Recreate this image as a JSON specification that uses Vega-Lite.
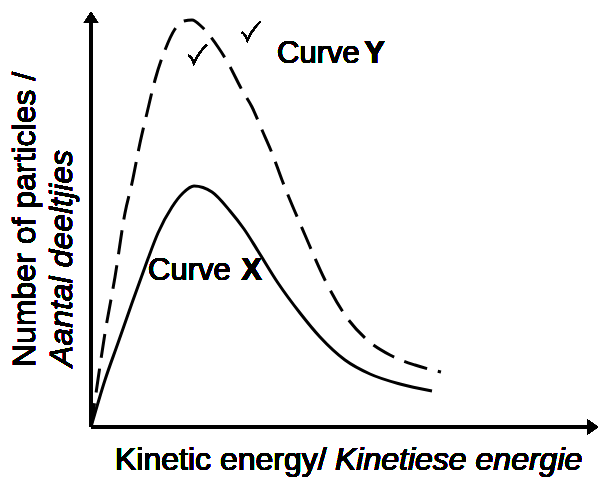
{
  "$schema": "https://vega.github.io/schema/vega-lite/v6.json",
  "width": 600,
  "height": 477,
  "padding": 0,
  "autosize": "none",
  "background": "white",
  "config": {"view": {"stroke": null}, "text": {"font": "Liberation Sans", "fontSize": 32, "color": "black"}},
  "datasets": {
    "curves": [
      {"curve": "X", "energy": 0, "count": 0},
      {"curve": "X", "energy": 2.8, "count": 11.75},
      {"curve": "X", "energy": 5.4, "count": 21},
      {"curve": "X", "energy": 8.2, "count": 31},
      {"curve": "X", "energy": 10.8, "count": 40},
      {"curve": "X", "energy": 13.4, "count": 48.5},
      {"curve": "X", "energy": 16.2, "count": 55},
      {"curve": "X", "energy": 18.4, "count": 58.5},
      {"curve": "X", "energy": 20.6, "count": 60.25},
      {"curve": "X", "energy": 24.2, "count": 58.75},
      {"curve": "X", "energy": 27.8, "count": 54},
      {"curve": "X", "energy": 30.6, "count": 49.5},
      {"curve": "X", "energy": 33.4, "count": 44},
      {"curve": "X", "energy": 37.4, "count": 36},
      {"curve": "X", "energy": 41.8, "count": 28.5},
      {"curve": "X", "energy": 45.8, "count": 22.5},
      {"curve": "X", "energy": 50.8, "count": 16.75},
      {"curve": "X", "energy": 55.8, "count": 13.25},
      {"curve": "X", "energy": 61.8, "count": 10.75},
      {"curve": "X", "energy": 68.2, "count": 9},
      {"curve": "Y", "energy": 0, "count": 0},
      {"curve": "Y", "energy": 0.8, "count": 6.75},
      {"curve": "Y", "energy": 2.8, "count": 23.5},
      {"curve": "Y", "energy": 4.8, "count": 37.5},
      {"curve": "Y", "energy": 6.8, "count": 53.5},
      {"curve": "Y", "energy": 8.2, "count": 61},
      {"curve": "Y", "energy": 9.8, "count": 71},
      {"curve": "Y", "energy": 11.2, "count": 78.5},
      {"curve": "Y", "energy": 12.8, "count": 86.75},
      {"curve": "Y", "energy": 14.8, "count": 94.25},
      {"curve": "Y", "energy": 16.8, "count": 99.5},
      {"curve": "Y", "energy": 18.6, "count": 101.5},
      {"curve": "Y", "energy": 20.2, "count": 101.75},
      {"curve": "Y", "energy": 22.2, "count": 100},
      {"curve": "Y", "energy": 25.4, "count": 95},
      {"curve": "Y", "energy": 27.4, "count": 91},
      {"curve": "Y", "energy": 30.2, "count": 84.25},
      {"curve": "Y", "energy": 32.2, "count": 80},
      {"curve": "Y", "energy": 34.2, "count": 74.25},
      {"curve": "Y", "energy": 36.2, "count": 68.5},
      {"curve": "Y", "energy": 38.2, "count": 61.75},
      {"curve": "Y", "energy": 42.8, "count": 48},
      {"curve": "Y", "energy": 46.8, "count": 36.75},
      {"curve": "Y", "energy": 50.8, "count": 28},
      {"curve": "Y", "energy": 54.8, "count": 22.25},
      {"curve": "Y", "energy": 59.8, "count": 18},
      {"curve": "Y", "energy": 64.8, "count": 15.5},
      {"curve": "Y", "energy": 70, "count": 13.75}
    ]
  },
  "data": {"name": "curves"},
  "layer": [
    {
      "transform": [{"filter": "datum.curve === 'X'"}],
      "mark": {"type": "line", "color": "black", "strokeWidth": 3, "interpolate": "monotone", "clip": false},
      "encoding": {
        "x": {"field": "energy", "type": "quantitative", "axis": null, "scale": {"domain": [-18.2, 101.8], "nice": false, "zero": false}},
        "y": {"field": "count", "type": "quantitative", "axis": null, "scale": {"domain": [-12.5, 106.75], "nice": false, "zero": false}},
        "order": {"field": "energy"}
      }
    },
    {
      "transform": [{"filter": "datum.curve === 'Y'"}],
      "mark": {"type": "line", "color": "black", "strokeWidth": 3, "strokeDash": [24, 11], "interpolate": "monotone", "clip": false},
      "encoding": {
        "x": {"field": "energy", "type": "quantitative", "axis": null},
        "y": {"field": "count", "type": "quantitative", "axis": null},
        "order": {"field": "energy"}
      }
    },
    {
      "mark": {"type": "rule", "color": "black", "strokeWidth": 3.5},
      "encoding": {"x": {"datum": 0}, "x2": {"datum": 99.4}, "y": {"datum": 0}}
    },
    {
      "mark": {"type": "rule", "color": "black", "strokeWidth": 3.5},
      "encoding": {"x": {"datum": 0}, "y": {"datum": 0}, "y2": {"datum": 101}}
    },
    {
      "mark": {"type": "point", "shape": "M -1 -1.4 L 1 0 L -1 1.4 Z", "size": 121, "filled": true, "color": "black", "opacity": 1},
      "encoding": {"x": {"datum": 100.3}, "y": {"datum": 0}}
    },
    {
      "mark": {"type": "point", "shape": "M 0 -1 L 1.3 1 L -1.3 1 Z", "size": 121, "filled": true, "color": "black", "opacity": 1},
      "encoding": {"x": {"datum": 0}, "y": {"datum": 102.4}}
    },
    {
      "mark": {"type": "point", "shape": "M -1 0.15 Q -0.6 0.35 -0.4 1 Q 0.15 -0.2 1 -1", "size": 340, "filled": false, "color": "black", "strokeWidth": 1.6, "opacity": 1},
      "encoding": {"x": {"datum": 21.3}, "y": {"datum": 93.25}}
    },
    {
      "mark": {"type": "point", "shape": "M -1 0.15 Q -0.6 0.35 -0.4 1 Q 0.15 -0.2 1 -1", "size": 340, "filled": false, "color": "black", "strokeWidth": 1.6, "opacity": 1},
      "encoding": {"x": {"datum": 32}, "y": {"datum": 99}}
    },
    {
      "mark": {"type": "text", "align": "left", "baseline": "alphabetic", "fontSize": 31},
      "encoding": {"x": {"datum": 37.2}, "y": {"datum": 91}, "text": {"value": "Curve"}}
    },
    {
      "mark": {"type": "text", "align": "right", "baseline": "alphabetic", "fontSize": 31, "fontWeight": "bold"},
      "encoding": {"x": {"datum": 58.8}, "y": {"datum": 91}, "text": {"value": "Y"}}
    },
    {
      "mark": {"type": "text", "align": "left", "baseline": "alphabetic", "fontSize": 31},
      "encoding": {"x": {"datum": 11.4}, "y": {"datum": 36.75}, "text": {"value": "Curve"}}
    },
    {
      "mark": {"type": "text", "align": "right", "baseline": "alphabetic", "fontSize": 31, "fontWeight": "bold"},
      "encoding": {"x": {"datum": 34.2}, "y": {"datum": 36.75}, "text": {"value": "X"}}
    },
    {
      "mark": {"type": "text", "align": "left", "baseline": "alphabetic", "fontSize": 32},
      "encoding": {"x": {"datum": 4.8}, "y": {"datum": -10.75}, "text": {"value": "Kinetic energy/"}}
    },
    {
      "mark": {"type": "text", "align": "left", "baseline": "alphabetic", "fontSize": 32, "fontStyle": "italic"},
      "encoding": {"x": {"datum": 48.8}, "y": {"datum": -10.75}, "text": {"value": "Kinetiese energie"}}
    },
    {
      "mark": {"type": "text", "align": "left", "baseline": "alphabetic", "fontSize": 32, "angle": 270},
      "encoding": {"x": {"datum": -11.2}, "y": {"datum": 15}, "text": {"value": "Number of particles /"}}
    },
    {
      "mark": {"type": "text", "align": "left", "baseline": "alphabetic", "fontSize": 32, "angle": 270, "fontStyle": "italic"},
      "encoding": {"x": {"datum": -3.8}, "y": {"datum": 15}, "text": {"value": "Aantal deeltjies"}}
    }
  ]
}
